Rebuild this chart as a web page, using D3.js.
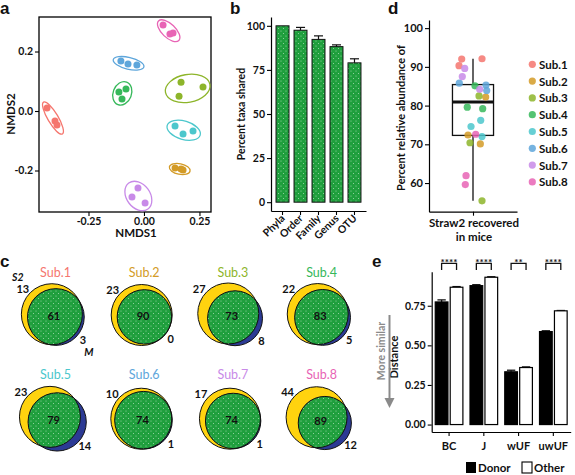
<!DOCTYPE html>
<html><head><meta charset="utf-8">
<script src="https://cdn.jsdelivr.net/npm/d3@7"></script>
<style>body{margin:0;background:#fff} svg{display:block}</style>
</head><body><svg id="c" width="575" height="475"></svg>
<script>
// ================= DATA =================
const subjects = ["Sub.1","Sub.2","Sub.3","Sub.4","Sub.5","Sub.6","Sub.7","Sub.8"];
const subColors = ["#F5766E","#D39B27","#8DB52A","#36B85A","#4CC7CC","#5EA6DB","#C88AE8","#E864B5"];

// Panel a: NMDS coordinates (3 samples per subject)
const nmds1 = [[-0.437,-0.401,-0.392],[0.140,0.176,0.167],[0.167,0.158,0.266],[-0.113,-0.081,-0.099],
               [0.140,0.176,0.221],[-0.104,-0.072,-0.032],[-0.027,-0.054,0.005],[0.086,0.117,0.131]];
const nmds2 = [[0.010,-0.034,-0.047],[-0.192,-0.198,-0.195],[0.097,0.050,0.081],[0.064,0.074,0.040],
               [-0.050,-0.077,-0.067],[0.168,0.158,0.155],[-0.259,-0.289,-0.309],[0.289,0.259,0.262]];
const nmdsTicksX = [-0.25, 0, 0.25];
const nmdsTicksY = [-0.2, 0, 0.2];

// Panel b
const taxLevels = ["Phyla","Order","Family","Genus","OTU"];
const pctShared = [100, 97.5, 92.3, 88.2, 79.0];
const pctSharedErr = [0, 1.6, 2.0, 1.0, 2.3];
const pctTicks = [0, 25, 50, 75, 100];

// Panel c: Venn counts (S2 only, shared, M only)
const s2Only = [13, 23, 27, 22, 23, 10, 17, 44];
const sharedTaxa = [61, 90, 73, 83, 79, 74, 74, 89];
const mOnly = [3, 0, 8, 5, 14, 1, 1, 12];

// Panel d: percent relative abundance of Straw2 recovered in mice
const abundance = [[92.0,92.1,90.3],[82.2,72.4,70.1],[82.5,70.4,55.4],[85.1,79.6,79.2],
                   [76.2,74.6,72.0],[85.8,85.3,83.9],[89.6,87.5,84.2],[72.6,61.9,59.6]];
const jitterD = [[-0.154,0.123,-0.191],[0.173,-0.068,0.100],[0.082,-0.041,0.123],[0.027,-0.078,0.132],
                 [0.105,-0.027,0.123],[-0.187,0.177,0.187],[-0.113,-0.146,0.091],[0.037,-0.095,-0.105]];
const abTicks = [60, 70, 80, 90, 100];

// Panel e
const distMetrics = ["BC","J","wUF","uwUF"];
const groups = ["Donor","Other"];
const donorDist = [0.774, 0.877, 0.333, 0.587];
const donorErr  = [0.013, 0.006, 0.010, 0.005];
const otherDist = [0.867, 0.930, 0.360, 0.718];
const otherErr  = [0.004, 0.003, 0.004, 0.002];
const signif = ["****","****","**","****"];
const distTicks = [0, 0.25, 0.5, 0.75];

// ================= DRAW =================
const FONT = "Lato, 'Open Sans', 'DejaVu Sans', sans-serif";
const GREEN = "#1f9f3d", YELLOW = "#FFD30F", BLUE = "#2c3a94";
const svg = d3.select("#c");
const defs = svg.append("defs");
const pat = defs.append("pattern").attr("id","stip").attr("width",5).attr("height",5).attr("patternUnits","userSpaceOnUse");
pat.append("rect").attr("width",5).attr("height",5).attr("fill",GREEN);
pat.append("circle").attr("cx",1).attr("cy",1).attr("r",0.5).attr("fill","#fff").attr("opacity",0.65);
pat.append("circle").attr("cx",3.5).attr("cy",3.5).attr("r",0.5).attr("fill","#fff").attr("opacity",0.65);

function styleAxis(g, fs){
  g.selectAll("path.domain").attr("stroke","#000").attr("stroke-width",1.2);
  g.selectAll(".tick line").attr("stroke","#000").attr("stroke-width",1.1);
  g.selectAll(".tick text").attr("font-family",FONT).attr("font-size",fs||10.5)
    .attr("font-weight","bold").attr("fill","#111");
}
function txt(g, x, y, s, o){
  o = o || {};
  const t = g.append("text").attr("x",x).attr("y",y).text(s)
    .attr("font-family",o.family||FONT).attr("font-size",o.size||11)
    .attr("font-weight",o.weight||"bold").attr("fill",o.fill||"#111")
    .attr("text-anchor",o.anchor||"middle");
  if (o.rotate) t.attr("transform",`rotate(${o.rotate},${x},${y})`);
  if (o.style) t.attr("font-style",o.style);
  if (o.baseline) t.attr("dominant-baseline",o.baseline);
  return t;
}
function panelLetter(x,y,s){ txt(svg,x,y,s,{family:"'Liberation Sans', Arial, sans-serif",size:17,anchor:"start"}); }

// ---------- Panel a ----------
{
  const xA = d3.scaleLinear().domain([-0.473,0.302]).range([39,211]);
  const yA = d3.scaleLinear().domain([-0.3395,0.316]).range([212,17]);
  const g = svg.append("g");
  const ax = g.append("g").attr("transform","translate(0,212)")
    .call(d3.axisBottom(xA).tickValues(nmdsTicksX).tickSize(4).tickPadding(2).tickFormat(d=>d.toFixed(2)));
  ax.select(".domain").remove(); styleAxis(ax);
  const ay = g.append("g").attr("transform","translate(39,0)")
    .call(d3.axisLeft(yA).tickValues(nmdsTicksY).tickSize(4).tickPadding(2).tickFormat(d=>d.toFixed(1)));
  ay.select(".domain").remove(); styleAxis(ay);
  g.append("rect").attr("x",39).attr("y",17).attr("width",172).attr("height",195)
    .attr("fill","none").attr("stroke","#000").attr("stroke-width",1.3);
  subjects.forEach((s,i)=>{
    const pts = nmds1[i].map((v,j)=>[xA(v), yA(nmds2[i][j])]);
    const mx = d3.mean(pts,p=>p[0]), my = d3.mean(pts,p=>p[1]);
    const sxx = d3.mean(pts,p=>(p[0]-mx)**2), syy = d3.mean(pts,p=>(p[1]-my)**2);
    const sxy = d3.mean(pts,p=>(p[0]-mx)*(p[1]-my));
    const tr = (sxx+syy)/2, df = Math.sqrt(((sxx-syy)/2)**2 + sxy*sxy);
    const l1 = tr+df, l2 = Math.max(tr-df,0);
    const ang = Math.atan2(l1-sxx, sxy||1e-9)*180/Math.PI;
    const angle = Math.abs(sxy)<1e-9 ? (sxx>=syy?0:90) : ang;
    g.append("ellipse").attr("cx",mx).attr("cy",my)
      .attr("rx",1.6*Math.sqrt(l1)+5).attr("ry",1.6*Math.sqrt(l2)+5)
      .attr("transform",`rotate(${angle},${mx},${my})`)
      .attr("fill","none").attr("stroke",subColors[i]).attr("stroke-width",1.3);
    pts.forEach(p=> g.append("circle").attr("cx",p[0]).attr("cy",p[1]).attr("r",3.5).attr("fill",subColors[i]));
  });
  txt(g,136,237,"NMDS1",{size:11.5});
  txt(g,15,114,"NMDS2",{size:11.5,rotate:-90});
  panelLetter(0,14,"a");
}

// ---------- Panel b ----------
{
  const xB = d3.scaleBand().domain(taxLevels).range([271,366]).paddingInner(0.28).paddingOuter(0.28);
  const yB = d3.scaleLinear().domain([-5,105]).range([211,17]);
  const g = svg.append("g");
  taxLevels.forEach((t,i)=>{
    g.append("rect").attr("x",xB(t)).attr("y",yB(pctShared[i])).attr("width",xB.bandwidth())
      .attr("height",yB(0)-yB(pctShared[i])).attr("fill","url(#stip)").attr("stroke","#111").attr("stroke-width",1);
    if (pctSharedErr[i]>0){
      const cx = xB(t)+xB.bandwidth()/2, w = xB.bandwidth()*0.35;
      g.append("line").attr("x1",cx).attr("x2",cx).attr("y1",yB(pctShared[i]))
        .attr("y2",yB(pctShared[i]+pctSharedErr[i])).attr("stroke","#111").attr("stroke-width",1.2);
      g.append("line").attr("x1",cx-w).attr("x2",cx+w).attr("y1",yB(pctShared[i]+pctSharedErr[i]))
        .attr("y2",yB(pctShared[i]+pctSharedErr[i])).attr("stroke","#111").attr("stroke-width",1.2);
    }
  });
  const ay = g.append("g").attr("transform","translate(271,0)")
    .call(d3.axisLeft(yB).tickValues(pctTicks).tickSize(4).tickPadding(2).tickSizeOuter(0));
  styleAxis(ay);
  const ax = g.append("g").attr("transform","translate(0,211)")
    .call(d3.axisBottom(xB).tickSize(4).tickSizeOuter(0).tickFormat(""));
  styleAxis(ax);
  taxLevels.forEach(t=>{
    const cx = xB(t)+xB.bandwidth()/2;
    txt(g,cx+3,219,t,{size:10.5,anchor:"end",rotate:-45});
  });
  txt(g,245,114,"Percent taxa shared",{size:10.5,rotate:-90});
  panelLetter(230,14,"b");
}

// ---------- Panel c ----------
{
  const g = svg.append("g");
  const R = 30.5, theta = 35*Math.PI/180;
  const u = [Math.cos(theta), Math.sin(theta)];
  function lens(r1,r2,d){
    if (d>=r1+r2) return 0;
    if (d<=Math.abs(r1-r2)) return Math.PI*Math.min(r1,r2)**2;
    const a = r1*r1*Math.acos((d*d+r1*r1-r2*r2)/(2*d*r1));
    const b = r2*r2*Math.acos((d*d+r2*r2-r1*r1)/(2*d*r2));
    const c = 0.5*Math.sqrt((-d+r1+r2)*(d+r1-r2)*(d-r1+r2)*(d+r1+r2));
    return a+b-c;
  }
  const titleY = [277, 379];
  subjects.forEach((s,i)=>{
    const col = i%4, row = Math.floor(i/4);
    const C = [53+col*88.7, 315+row*104];
    const aS2 = s2Only[i]+sharedTaxa[i], aM = mOnly[i]+sharedTaxa[i];
    const k = R/Math.sqrt(aS2/Math.PI);
    const r1 = R, r2 = Math.sqrt(aM/Math.PI)*k;
    const target = sharedTaxa[i]*k*k;
    let d;
    if (mOnly[i]===0) d = r1-r2;
    else {
      let lo = Math.abs(r1-r2), hi = r1+r2;
      for (let it=0; it<60; it++){ const m=(lo+hi)/2; if (lens(r1,r2,m)>target) lo=m; else hi=m; }
      d = (lo+hi)/2;
    }
    const sh = (d + r2 - r1)/2;
    const c1 = [C[0]-u[0]*sh, C[1]-u[1]*sh];
    const c2 = [c1[0]+u[0]*d, c1[1]+u[1]*d];
    const cid = "clipS2_"+i;
    defs.append("clipPath").attr("id",cid).append("circle").attr("cx",c1[0]).attr("cy",c1[1]).attr("r",r1);
    g.append("circle").attr("cx",c1[0]).attr("cy",c1[1]).attr("r",r1).attr("fill",YELLOW);
    g.append("circle").attr("cx",c2[0]).attr("cy",c2[1]).attr("r",r2).attr("fill",BLUE);
    g.append("circle").attr("cx",c2[0]).attr("cy",c2[1]).attr("r",r2).attr("fill","url(#stip)").attr("clip-path",`url(#${cid})`);
    g.append("circle").attr("cx",c1[0]).attr("cy",c1[1]).attr("r",r1).attr("fill","none").attr("stroke","#111").attr("stroke-width",1);
    g.append("circle").attr("cx",c2[0]).attr("cy",c2[1]).attr("r",r2).attr("fill","none").attr("stroke","#111").attr("stroke-width",1);
    const a1 = 221*Math.PI/180, a2 = 40*Math.PI/180;
    const p1 = [c1[0]+(r1+8)*Math.cos(a1), c1[1]+(r1+8)*Math.sin(a1)];
    const p2 = [c2[0]+(r2+7)*Math.cos(a2), c2[1]+(r2+7)*Math.sin(a2)];
    txt(g,p1[0],p1[1],s2Only[i],{size:11,baseline:"central"});
    txt(g,p2[0],p2[1],mOnly[i],{size:11,baseline:"central"});
    txt(g,(c1[0]+c2[0])/2,(c1[1]+c2[1])/2,sharedTaxa[i],{size:11,baseline:"central"});
    txt(g,C[0]+2.5,titleY[row],s,{size:12.5,weight:"normal",fill:subColors[i]});
    if (i===0){
      txt(g,p1[0]-5,p1[1]-12,"S2",{size:10.5,style:"italic",baseline:"central"});
      txt(g,p2[0]+6,p2[1]+12,"M",{size:10.5,style:"italic",baseline:"central"});
    }
  });
  panelLetter(0,267,"c");
}

// ---------- Panel d ----------
{
  const xD = d3.scaleLinear().domain([0.4,1.6]).range([429,517]);
  const yD = d3.scaleLinear().domain([52.6,102.1]).range([211.7,20]);
  const g = svg.append("g");
  const all = abundance.flat().sort(d3.ascending);
  const q1 = d3.quantile(all,0.25), med = d3.quantile(all,0.5), q3 = d3.quantile(all,0.75);
  const iqr = q3-q1;
  const wLo = d3.min(all.filter(v=>v>=q1-1.5*iqr)), wHi = d3.max(all.filter(v=>v<=q3+1.5*iqr));
  const cx = xD(1), bw = 0.28;
  g.append("line").attr("x1",cx).attr("x2",cx).attr("y1",yD(wHi)).attr("y2",yD(q3)).attr("stroke","#111").attr("stroke-width",1.3);
  g.append("line").attr("x1",cx).attr("x2",cx).attr("y1",yD(q1)).attr("y2",yD(wLo)).attr("stroke","#111").attr("stroke-width",1.3);
  g.append("rect").attr("x",xD(1-bw)).attr("y",yD(q3)).attr("width",xD(1+bw)-xD(1-bw)).attr("height",yD(q1)-yD(q3))
    .attr("fill","#fff").attr("stroke","#111").attr("stroke-width",1.3);
  g.append("line").attr("x1",xD(1-bw)).attr("x2",xD(1+bw)).attr("y1",yD(med)).attr("y2",yD(med)).attr("stroke","#111").attr("stroke-width",3);
  subjects.forEach((s,i)=>{
    abundance[i].forEach((v,j)=>{
      g.append("circle").attr("cx",xD(1+jitterD[i][j])).attr("cy",yD(v)).attr("r",3.6)
        .attr("fill",subColors[i]).attr("opacity",0.85);
    });
  });
  const ay = g.append("g").attr("transform","translate(429,0)")
    .call(d3.axisLeft(yD).tickValues(abTicks).tickSize(4).tickPadding(2).tickSizeOuter(0));
  styleAxis(ay, 11);
  const ax = g.append("g").attr("transform","translate(0,211.7)")
    .call(d3.axisBottom(xD).tickValues([1]).tickSize(4).tickSizeOuter(0).tickFormat(""));
  styleAxis(ax);
  txt(g,474,227,"Straw2 recovered",{size:11.5});
  txt(g,474,241,"in mice",{size:11.5});
  txt(g,405,118,"Percent relative abundance of",{size:11,rotate:-90});
  subjects.forEach((s,i)=>{
    const y = 64.3+i*16.8;
    g.append("circle").attr("cx",532.3).attr("cy",y).attr("r",3.6).attr("fill",subColors[i]).attr("opacity",0.85);
    txt(g,539,y,s,{size:11.5,anchor:"start",baseline:"central"});
  });
  panelLetter(388,14,"d");
}

// ---------- Panel e ----------
{
  const xE = d3.scaleBand().domain(distMetrics).range([431.7,570.7]).paddingInner(0.17).paddingOuter(0.085);
  const xG = d3.scaleBand().domain(groups).range([0,xE.bandwidth()]).paddingInner(0.07);
  const yE = d3.scaleLinear().domain([-0.047,0.965]).range([432,271.7]);
  const g = svg.append("g");
  const vals = {Donor:donorDist, Other:otherDist}, errs = {Donor:donorErr, Other:otherErr};
  distMetrics.forEach((m,i)=>{
    groups.forEach(gr=>{
      const x = xE(m)+xG(gr), w = xG.bandwidth(), v = vals[gr][i], e = errs[gr][i];
      const cx = x+w/2, cw = w*0.3;
      g.append("line").attr("x1",cx).attr("x2",cx).attr("y1",yE(v)).attr("y2",yE(v+e)).attr("stroke","#111").attr("stroke-width",1.3);
      g.append("line").attr("x1",cx-cw).attr("x2",cx+cw).attr("y1",yE(v+e)).attr("y2",yE(v+e)).attr("stroke","#111").attr("stroke-width",1.3);
      g.append("rect").attr("x",x+0.6).attr("y",yE(v)).attr("width",w-1.2).attr("height",yE(0)-yE(v))
        .attr("fill",gr==="Donor"?"#000":"#fff").attr("stroke","#000").attr("stroke-width",1.2);
    });
    const xa = xE(m)+xG("Donor")+xG.bandwidth()/2, xb = xE(m)+xG("Other")+xG.bandwidth()/2;
    g.append("path").attr("d",`M${xa},270V263.3H${xb}V270`).attr("fill","none").attr("stroke","#111").attr("stroke-width",1.3);
    txt(g,(xa+xb)/2,265.5,signif[i],{size:10});
  });
  const ay = g.append("g").attr("transform","translate(431.7,0)")
    .call(d3.axisLeft(yE).tickValues(distTicks).tickSize(4).tickPadding(2).tickSizeOuter(0).tickFormat(d=>d.toFixed(2)));
  styleAxis(ay, 10.5);
  const ax = g.append("g").attr("transform","translate(0,432)")
    .call(d3.axisBottom(xE).tickSize(4).tickPadding(6).tickSizeOuter(0));
  styleAxis(ax, 11);
  txt(g,398,357,"Distance",{size:11,rotate:-90});
  txt(g,385,351,"More similar",{size:10.5,rotate:-90,fill:"#8a8a8a"});
  g.append("line").attr("x1",389.5).attr("x2",389.5).attr("y1",315).attr("y2",399).attr("stroke","#8a8a8a").attr("stroke-width",2);
  g.append("path").attr("d","M384.5,398L394.5,398L389.5,408Z").attr("fill","#8a8a8a");
  // legend
  g.append("rect").attr("x",466).attr("y",462).attr("width",10).attr("height",11).attr("fill","#000");
  txt(g,478,471.5,"Donor",{size:11.5,anchor:"start"});
  g.append("rect").attr("x",522).attr("y",462).attr("width",10).attr("height",11).attr("fill","#fff").attr("stroke","#000").attr("stroke-width",1.1);
  txt(g,534,471.5,"Other",{size:11.5,anchor:"start"});
  panelLetter(372,267,"e");
}
</script></body></html>
